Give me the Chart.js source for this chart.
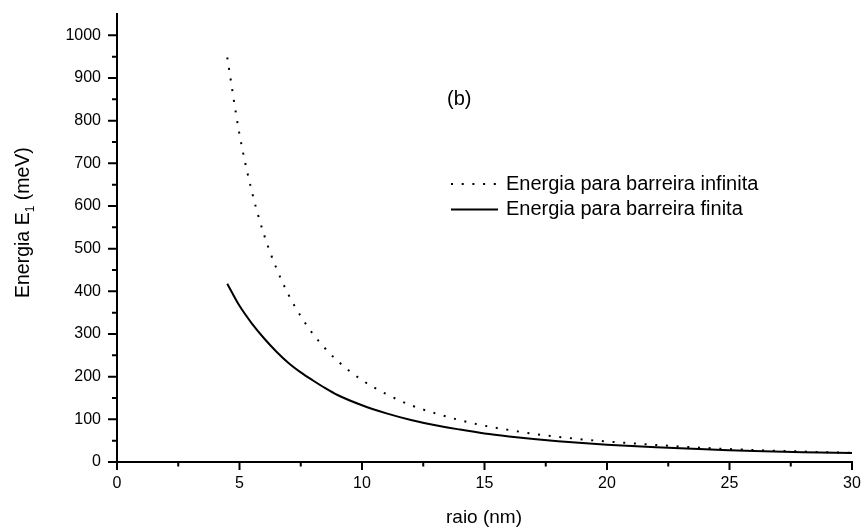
<!DOCTYPE html>
<html lang="pt">
<head>
<meta charset="UTF-8">
<title>Energia E1 x raio</title>
<style>
  html, body { margin: 0; padding: 0; background: #fff; }
  canvas { display: block; }
</style>
</head>
<body>
<canvas id="energiaChart" width="864" height="532"></canvas>

<script src="https://cdn.jsdelivr.net/npm/chart.js"></script>
<script>
// valores (raio em nm, energia em meV)
const raioInfinita = [4.5, 5, 5.5, 6, 6.5, 7, 7.5, 8, 8.5, 9, 10, 11, 12, 13, 14, 15, 16, 17, 18, 19, 20, 22, 24, 26, 28, 30];
const energiaInfinita = [948, 768, 635, 533, 455, 392, 342, 300, 266, 237, 192, 159, 133, 114, 98, 85, 75, 66, 59, 53, 48, 40, 33, 28, 24.5, 21.3];

const raioFinita = [4.5, 5, 5.5, 6, 6.5, 7, 7.5, 8, 8.5, 9, 10, 11, 12, 13, 14, 15, 16, 17, 18, 19, 20, 22, 24, 25, 26, 28, 30];
const energiaFinita = [418, 366, 325, 290, 259, 232, 210, 191, 173, 157, 133, 114, 98.5, 86, 76, 67, 60, 54, 48.7, 44.3, 40.7, 34.4, 29.6, 27.6, 25.8, 22.9, 21];

const xTicks = [0, 5, 10, 15, 20, 25, 30];
const xMinorTicks = [2.5, 7.5, 12.5, 17.5, 22.5, 27.5];
const yTicks = [0, 100, 200, 300, 400, 500, 600, 700, 800, 900, 1000];
const yMinorTicks = [50, 150, 250, 350, 450, 550, 650, 750, 850, 950];

const FONT = "'Liberation Sans', Arial, sans-serif";

function pontos(xs, ys) {
  return xs.map((x, i) => ({ x: x, y: ys[i] }));
}

// marcas dos eixos (maiores e menores), títulos, legenda e rótulo (b)
const decoracao = {
  id: 'decoracao',
  afterDraw(chart) {
    const ctx = chart.ctx;
    const xs = chart.scales.x, ys = chart.scales.y;
    const area = chart.chartArea;
    ctx.save();
    ctx.strokeStyle = '#000';
    ctx.lineWidth = 2;
    ctx.beginPath();
    xTicks.forEach(v => { const p = xs.getPixelForValue(v); ctx.moveTo(p, area.bottom); ctx.lineTo(p, area.bottom + 8); });
    xMinorTicks.forEach(v => { const p = xs.getPixelForValue(v); ctx.moveTo(p, area.bottom); ctx.lineTo(p, area.bottom + 4.5); });
    yTicks.forEach(v => { const p = ys.getPixelForValue(v); ctx.moveTo(area.left, p); ctx.lineTo(area.left - 9, p); });
    yMinorTicks.forEach(v => { const p = ys.getPixelForValue(v); ctx.moveTo(area.left, p); ctx.lineTo(area.left - 5, p); });
    ctx.stroke();

    ctx.fillStyle = '#000';
    ctx.textBaseline = 'alphabetic';

    // título do eixo x
    ctx.font = '19px ' + FONT;
    ctx.textAlign = 'center';
    ctx.fillText('raio (nm)', 484, 523);

    // título do eixo y com subscrito
    ctx.save();
    ctx.translate(28.5, 298);
    ctx.rotate(-Math.PI / 2);
    ctx.textAlign = 'left';
    ctx.font = '19.5px ' + FONT;
    const parte1 = 'Energia E';
    ctx.fillText(parte1, 0, 0);
    let w = ctx.measureText(parte1).width;
    ctx.font = '12px ' + FONT;
    ctx.fillText('1', w, 5);
    w += ctx.measureText('1').width;
    ctx.font = '19.5px ' + FONT;
    ctx.fillText(' (meV)', w, 0);
    ctx.restore();

    // rótulo (b)
    ctx.font = '20px ' + FONT;
    ctx.textAlign = 'left';
    ctx.fillText('(b)', 447, 105);

    // legenda
    const linhas = [184, 209.5];
    chart.data.datasets.forEach((ds, i) => {
      const y = linhas[i];
      ctx.save();
      ctx.strokeStyle = ds.borderColor;
      ctx.lineWidth = ds.borderWidth;
      ctx.setLineDash(ds.borderDash || []);
      ctx.beginPath();
      ctx.moveTo(451, y);
      ctx.lineTo(498, y);
      ctx.stroke();
      ctx.restore();
      ctx.font = '20px ' + FONT;
      ctx.fillText(ds.label, 506, y + 5.5);
    });
    ctx.restore();
  }
};

new Chart(document.getElementById('energiaChart'), {
  type: 'line',
  data: {
    datasets: [
      {
        label: 'Energia para barreira infinita',
        data: pontos(raioInfinita, energiaInfinita),
        borderColor: '#000',
        borderWidth: 2,
        borderDash: [2, 8.7],
        pointRadius: 0,
        cubicInterpolationMode: 'monotone',
        fill: false
      },
      {
        label: 'Energia para barreira finita',
        data: pontos(raioFinita, energiaFinita),
        borderColor: '#000',
        borderWidth: 2,
        pointRadius: 0,
        cubicInterpolationMode: 'monotone',
        fill: false
      }
    ]
  },
  options: {
    responsive: false,
    animation: false,
    devicePixelRatio: 1,
    layout: { padding: { top: 14, right: 12, left: 0, bottom: 0 } },
    plugins: {
      legend: { display: false },
      tooltip: { enabled: false }
    },
    scales: {
      x: {
        type: 'linear',
        min: 0,
        max: 30,
        afterBuildTicks: s => { s.ticks = xTicks.map(v => ({ value: v })); },
        afterFit: s => { s.height = 70; s.paddingLeft = 0; s.paddingRight = 0; },
        grid: { display: false, drawTicks: false },
        border: { display: true, color: '#000', width: 2 },
        ticks: {
          color: '#000',
          font: { family: FONT, size: 16 },
          padding: 12,
          maxRotation: 0,
          autoSkip: false,
          callback: v => String(v)
        }
      },
      y: {
        type: 'linear',
        min: 0,
        max: 1050,
        afterBuildTicks: s => { s.ticks = yTicks.map(v => ({ value: v })); },
        afterFit: s => { s.width = 117; s.paddingTop = 0; s.paddingBottom = 0; },
        grid: { display: false, drawTicks: false },
        border: { display: true, color: '#000', width: 2 },
        ticks: {
          color: '#000',
          font: { family: FONT, size: 16 },
          padding: 16,
          autoSkip: false,
          callback: v => String(v)
        }
      }
    }
  },
  plugins: [decoracao]
});
</script>
</body>
</html>
